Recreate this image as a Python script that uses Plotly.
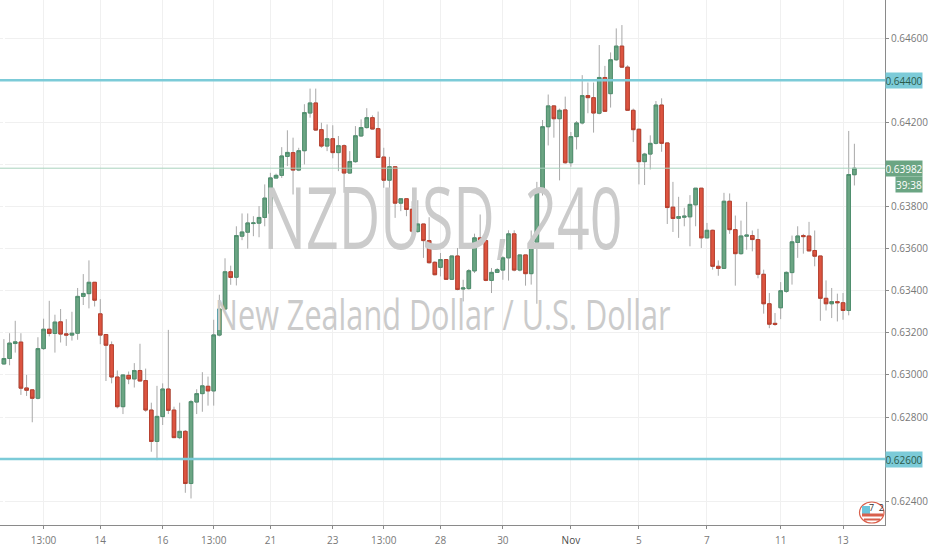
import plotly.graph_objects as go

# prices, in units of 0.00001
opens = [63052,63078,63149,63156,62938,62929,62889,63125,63217,63197,63252,63195,63189,63198,63373,63386,63440,63290,63192,63143,
         62990,62849,62998,62981,63021,62973,62833,62684,62802,62933,62833,62702,62732,62484,62871,62911,62946,62924,63189,63313,
         63490,63464,63659,63678,63719,63721,63748,63768,63935,63948,64038,64056,63973,64065,64244,64292,64165,64087,64122,64056,
         64089,63959,64013,64135,64175,64222,64170,64035,63925,63989,63816,63837,63787,63681,63717,63638,63535,63511,63548,63454,
         63565,63408,63410,63494,63651,63638,63449,63487,63498,63556,63670,63498,63570,63481,63630,63878,64179,64278,64217,64259,
         64008,64132,64197,64327,64317,64243,64413,64336,64497,64562,64462,64257,64167,64013,64049,64100,64282,64102,63797,63744,
         63749,63751,63808,63887,63651,63687,63516,63506,63825,63690,63576,63659,63662,63643,63478,63338,63245,63319,63397,63486,
         63629,63662,63660,63591,63565,63364,63338,63348,63343,63306,63951]
highs = [63170,63198,63257,63198,63000,62929,63179,63267,63352,63286,63313,63265,63300,63413,63479,63544,63440,63360,63192,63159,
         63021,63000,63016,63056,63148,63030,62868,62948,62960,63214,62849,62868,62738,62881,62932,63013,62992,63262,63381,63554,
         63519,63706,63767,63767,63754,63802,63905,63960,63956,64082,64162,64127,64079,64286,64360,64360,64198,64190,64186,64135,
         64095,64063,64182,64214,64267,64233,64251,64079,64036,63989,63837,63837,63825,63830,63717,63749,63540,63579,63548,63565,
         63603,63452,63503,63671,63762,63659,63508,63508,63564,63687,63687,63570,63570,63686,63917,64211,64332,64281,64265,64322,
         64154,64206,64424,64389,64389,64567,64468,64532,64646,64662,64471,64265,64170,64055,64138,64301,64314,64103,63917,63846,
         63794,63854,63887,63887,63722,63690,63544,63865,63862,63757,63733,63822,63686,63694,63500,63389,63294,63441,63492,63662,
         63706,63670,63727,63686,63565,63449,63413,63386,63389,64159,64098]
lows = [63050,63046,63106,62905,62900,62775,62884,63119,63183,63106,63154,63138,63163,63167,63332,63316,63325,63146,62971,62960,
        62841,62814,62956,62940,62971,62825,62635,62595,62762,62814,62702,62695,62440,62413,62814,62825,62854,62854,63183,63309,
        63428,63425,63640,63600,63659,63654,63706,63706,63935,63936,63992,63857,63968,64000,64222,64159,64079,64063,64029,63968,
        63865,63956,64008,64132,64170,64167,64032,63889,63884,63746,63778,63754,63675,63675,63556,63529,63473,63468,63452,63452,
        63402,63349,63405,63484,63635,63445,63389,63484,63452,63448,63492,63492,63424,63429,63338,63852,64090,64127,63924,64003,
        63989,64071,64190,64243,64151,64238,64249,64270,64492,64459,64254,64106,63905,63902,63976,64095,64060,63717,63679,63651,
        63706,63611,63706,63603,63648,63500,63471,63505,63670,63424,63571,63595,63587,63459,63291,63222,63233,63265,63390,63429,
        63556,63576,63589,63516,63257,63306,63270,63254,63262,63283,63900]
closes = [63078,63151,63157,62937,62927,62889,63125,63217,63197,63251,63194,63189,63198,63373,63387,63440,63355,63189,63141,62990,
          62849,63000,62981,63021,62971,62833,62684,62803,62933,62832,62702,62732,62484,62873,62911,62948,62924,63190,63313,63490,
          63463,63662,63679,63722,63722,63748,63840,63936,63948,64040,64057,63973,64065,64246,64292,64163,64087,64122,64056,64089,
          63959,64014,64136,64175,64222,64168,64033,63925,63989,63816,63837,63786,63683,63717,63638,63533,63476,63548,63454,63565,
          63406,63413,63495,63651,63637,63449,63487,63500,63556,63670,63498,63570,63481,63630,63879,64179,64278,64217,64257,64008,
          64132,64197,64327,64317,64244,64413,64252,64497,64562,64462,64257,64165,64013,64049,64100,64282,64100,63795,63743,63752,
          63754,63810,63887,63651,63687,63516,63506,63825,63690,63576,63660,63664,63643,63478,63338,63241,63240,63400,63487,63632,
          63660,63657,63589,63564,63364,63338,63348,63343,63306,63952,63982]

tick_pos = [7, 17, 28, 37, 47, 58, 67, 77, 88, 100, 112, 124, 137, 148]
tick_text = ["13:00", "14", "16", "13:00", "21", "23", "13:00", "28", "30",
             '<span style="color:#4a4a4a">Nov</span>', "5", "7", "11", "13"]
price_ticks = [0.624, 0.628, 0.630, 0.632, 0.634, 0.636, 0.638, 0.640, 0.642, 0.646]
# 0.64000 sits behind the last price box, so it keeps its grid line but no label
price_text = ["0.62400", "0.62800", "0.63000", "0.63200", "0.63400", "0.63600", "0.63800", "", "0.64200", "0.64600"]

open_p = [v / 100000 for v in opens]
high_p = [v / 100000 for v in highs]
low_p = [v / 100000 for v in lows]
close_p = [v / 100000 for v in closes]
idx = list(range(len(opens)))

axis_font = dict(family="Liberation Sans Narrow, Open Sans", size=10, color="#787878")

fig = go.Figure()

# watermark goes in as text traces so the candles sit on top of it
fig.add_trace(go.Scatter(x=[77.4], y=[0.63702], mode="text", text=["NZDUSD, 240"], textposition="middle center",
                         textfont=dict(family="Open Sans", size=86, color="#cbcbcb"), hoverinfo="skip"))
fig.add_trace(go.Scatter(x=[77.4], y=[0.63265], mode="text", text=["New Zealand Dollar / U.S. Dollar"], textposition="middle center",
                         textfont=dict(family="Open Sans", size=42, color="#cbcbcb"), hoverinfo="skip"))

# wicks are grey, the bodies are drawn again over them with a darker edge
fig.add_trace(go.Candlestick(x=idx, open=open_p, high=high_p, low=low_p, close=close_p, whiskerwidth=0,
                             increasing=dict(line=dict(color="#a8a8a8", width=1), fillcolor="#6ba583"),
                             decreasing=dict(line=dict(color="#a8a8a8", width=1), fillcolor="#d75442")))
fig.add_trace(go.Candlestick(x=idx, open=open_p, close=close_p,
                             high=[max(a, b) for a, b in zip(open_p, close_p)],
                             low=[min(a, b) for a, b in zip(open_p, close_p)],
                             whiskerwidth=0,
                             increasing=dict(line=dict(color="#4f8f6e", width=1), fillcolor="#6ba583"),
                             decreasing=dict(line=dict(color="#b8402f", width=1), fillcolor="#dc5440")))

for level in [0.644, 0.626]:
    fig.add_shape(type="line", xref="paper", x0=0, x1=1, y0=level, y1=level, line=dict(color="#7ccbd8", width=2.5))
fig.add_shape(type="line", xref="paper", x0=0, x1=1, y0=0.63982, y1=0.63982, line=dict(color="#a9d3bd", width=1))

# price labels on the scale
for level, txt, bg, fg in [(0.644, "0.64400", "#7ccbd8", "#2b5a4a"), (0.626, "0.62600", "#7ccbd8", "#2b5a4a"),
                           (0.63982, "0.63982", "#6ba583", "#ffffff")]:
    fig.add_annotation(xref="paper", x=1, y=level, text=txt, showarrow=False, xanchor="left", width=36, height=15,
                       bgcolor=bg, font=dict(family="Liberation Sans Narrow, Open Sans", size=10, color=fg), borderpad=0)
fig.add_annotation(xref="paper", x=1, y=0.63982, yshift=-16, xshift=10, text="39:38", showarrow=False, xanchor="left",
                   width=26, height=15, bgcolor="#6ba583",
                   font=dict(family="Liberation Sans Narrow, Open Sans", size=10, color="#ffffff"), borderpad=0)


# little badge in the bottom right corner, placed in pixels of the plot area
def px(x):
    return x / 885


def py(y):
    return 1 - y / 525


fig.add_shape(type="circle", xref="paper", yref="paper", x0=px(859.5), x1=px(884), y0=py(523), y1=py(502),
              fillcolor="#ffffff", line=dict(color="#d9604c", width=1.2))
fig.add_shape(type="rect", xref="paper", yref="paper", x0=px(862), x1=px(870), y0=py(514), y1=py(506),
              fillcolor="#6cc5dc", line=dict(width=0))
fig.add_shape(type="rect", xref="paper", yref="paper", x0=px(862), x1=px(883), y0=py(516.5), y1=py(513.5),
              fillcolor="#d9604c", line=dict(width=0))
fig.add_shape(type="rect", xref="paper", yref="paper", x0=px(864), x1=px(880), y0=py(520.5), y1=py(518.5),
              fillcolor="#d9604c", line=dict(width=0))
fig.add_annotation(xref="paper", yref="paper", x=px(876), y=py(507), yanchor="middle", xanchor="center",
                   text="7&nbsp;&nbsp;2", showarrow=False,
                   font=dict(family="Liberation Sans Narrow, Open Sans", size=9, color="#333333"))

fig.update_layout(
    width=932, height=550, autosize=False, margin=dict(l=0, r=47, t=0, b=25),
    paper_bgcolor="#ffffff", plot_bgcolor="#ffffff", showlegend=False, boxgap=0.1,
    xaxis=dict(range=[-0.688, 155.4], tickvals=tick_pos, ticktext=tick_text, rangeslider=dict(visible=False),
               showgrid=True, gridcolor="#f0f0f0", ticks="outside", ticklen=3, tickcolor="#8a8a8a", ticklabelstandoff=3,
               showline=True, linecolor="#8a8a8a", linewidth=1, tickangle=0, tickfont=axis_font),
    yaxis=dict(side="right", range=[0.62287, 0.64781], tickvals=price_ticks, ticktext=price_text,
               showgrid=True, gridcolor="#f0f0f0", zeroline=False, ticks="outside", ticklen=3, tickcolor="#8a8a8a",
               showline=True, linecolor="#8a8a8a", linewidth=1, tickfont=axis_font),
)

# the page margin would push the chart off the window, and the reference watermark is squeezed sideways
post = """
document.body.style.margin = '0';
var squeeze = [0.665, 0.73];
document.querySelectorAll('.textpoint text').forEach(function (t, i) {
    var cx = t.getAttribute('x');
    t.setAttribute('transform', 'translate(' + cx + ',0) scale(' + squeeze[i] + ',1) translate(' + (-cx) + ',0)');
});
"""
fig.write_html("out.html", post_script=post, config=dict(displayModeBar=False))
